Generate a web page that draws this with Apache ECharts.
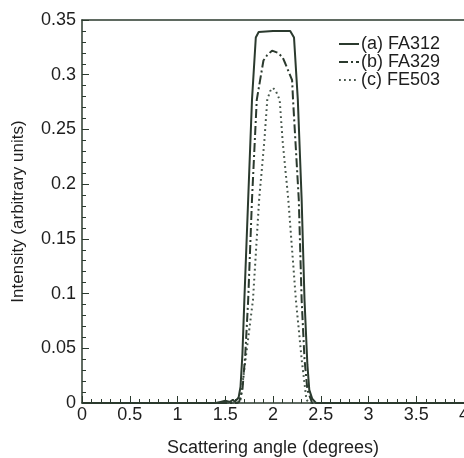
<!DOCTYPE html>
<html>
<head>
<meta charset="utf-8">
<script src="https://cdn.jsdelivr.net/npm/echarts@6/dist/echarts.min.js"></script>
<style>
html,body{margin:0;padding:0;background:#fff;}
#c{width:464px;height:458px;}
</style>
</head>
<body>
<div id="c"></div>
<script>
var seriesNames = ['(a) FA312', '(b) FA329', '(c) FE503'];
var xTicks = [0, 0.5, 1, 1.5, 2, 2.5, 3, 3.5, 4];
var yTicks = [0, 0.05, 0.1, 0.15, 0.2, 0.25, 0.3, 0.35];

var angleA = [0, 1.0, 1.4, 1.45, 1.5, 1.55, 1.58, 1.6, 1.62, 1.64, 1.66, 1.68, 1.70, 1.74, 1.78, 1.82, 1.85, 2.0, 2.18, 2.22, 2.26, 2.30, 2.33, 2.36, 2.38, 2.41, 2.45, 2.6, 3.0, 4.0];
var valueA = [0, 0, 0, 0.001, 0.002, 0.001, 0.003, 0.001, 0.001, 0.005, 0.015, 0.045, 0.094, 0.186, 0.277, 0.334, 0.339, 0.340, 0.340, 0.334, 0.277, 0.186, 0.094, 0.035, 0.012, 0.004, 0, 0, 0, 0];

var angleB = [0, 1.5, 1.62, 1.645, 1.68, 1.71, 1.74, 1.78, 1.83, 1.865, 1.90, 1.94, 1.99, 2.05, 2.10, 2.13, 2.20, 2.21, 2.27, 2.30, 2.33, 2.36, 2.41, 2.5, 4.0];
var valueB = [0, 0, 0, 0.001, 0.012, 0.045, 0.094, 0.186, 0.277, 0.295, 0.313, 0.318, 0.322, 0.320, 0.316, 0.310, 0.295, 0.277, 0.186, 0.094, 0.040, 0.012, 0, 0, 0];

var angleC = [0, 1.5, 1.63, 1.66, 1.72, 1.79, 1.855, 1.91, 1.94, 1.97, 2.00, 2.03, 2.07, 2.10, 2.16, 2.24, 2.30, 2.35, 2.38, 2.5, 4.0];
var valueC = [0, 0, 0, 0.003, 0.045, 0.094, 0.186, 0.240, 0.277, 0.285, 0.288, 0.285, 0.277, 0.240, 0.186, 0.094, 0.040, 0.003, 0, 0, 0];

function pairs(xs, ys) { return xs.map(function (x, i) { return [x, ys[i]]; }); }

var lineColor = '#2b3a2e';
var dotColor = '#46564b';
var txt = '#1e1e1e';
var font = 'Liberation Sans, Arial, Helvetica, sans-serif';

var chart = echarts.init(document.getElementById('c'), null, {renderer: 'canvas'});
chart.setOption({
  animation: false,
  backgroundColor: '#ffffff',
  grid: {left: 82, right: 0, top: 20, bottom: 55, containLabel: false, outerBoundsMode: 'none'},
  legend: {
    orient: 'vertical', left: 333, top: 30, itemGap: 0,
    itemWidth: 20, itemHeight: 14,
    data: seriesNames,
    itemStyle: {opacity: 0},
    textStyle: {fontFamily: font, fontSize: 18, color: txt, padding: [0, 0, 0, -3]}
  },
  xAxis: [{
    type: 'value', min: xTicks[0], max: xTicks[xTicks.length - 1], interval: 0.5,
    name: 'Scattering angle (degrees)', nameLocation: 'middle', nameGap: 36,
    nameTextStyle: {fontFamily: font, fontSize: 18, color: txt},
    axisLine: {lineStyle: {color: lineColor, width: 1.5}},
    axisTick: {inside: true, length: 7, lineStyle: {color: lineColor}},
    minorTick: {show: true, splitNumber: 5, length: 4, lineStyle: {color: lineColor}},
    axisLabel: {fontFamily: font, fontSize: 18, color: txt, margin: 3,
      formatter: function (v) { return String(v); }},
    splitLine: {show: false}
  }, {
    type: 'value', position: 'top', min: 0, max: 4,
    axisLine: {show: true, lineStyle: {color: lineColor, width: 1.5}},
    axisTick: {show: false}, axisLabel: {show: false}, splitLine: {show: false}
  }],
  yAxis: {
    type: 'value', min: yTicks[0], max: yTicks[yTicks.length - 1], interval: 0.05,
    name: 'Intensity (arbitrary units)', nameLocation: 'middle', nameGap: 55,
    nameTextStyle: {fontFamily: font, fontSize: 17, color: txt},
    axisLine: {show: true, lineStyle: {color: lineColor, width: 1.5}},
    axisTick: {inside: true, length: 7, lineStyle: {color: lineColor}},
    minorTick: {show: true, splitNumber: 5, length: 4, lineStyle: {color: lineColor}},
    axisLabel: {fontFamily: font, fontSize: 18, color: txt, margin: 6,
      formatter: function (v) { return String(Math.round(v * 100) / 100); }},
    splitLine: {show: false}
  },
  series: [{
    name: seriesNames[0], type: 'line', showSymbol: false, symbol: 'none',
    data: pairs(angleA, valueA),
    lineStyle: {color: lineColor, width: 2}, itemStyle: {color: lineColor}, z: 3
  }, {
    name: seriesNames[1], type: 'line', showSymbol: false, symbol: 'none',
    data: pairs(angleB, valueB),
    lineStyle: {color: lineColor, width: 2, type: [9, 3, 2, 3]}, itemStyle: {color: lineColor}, z: 2
  }, {
    name: seriesNames[2], type: 'line', showSymbol: false, symbol: 'none',
    data: pairs(angleC, valueC),
    lineStyle: {color: dotColor, width: 2, type: [1.8, 3.2]}, itemStyle: {color: dotColor}, z: 1
  }]
});
</script>
</body>
</html>
